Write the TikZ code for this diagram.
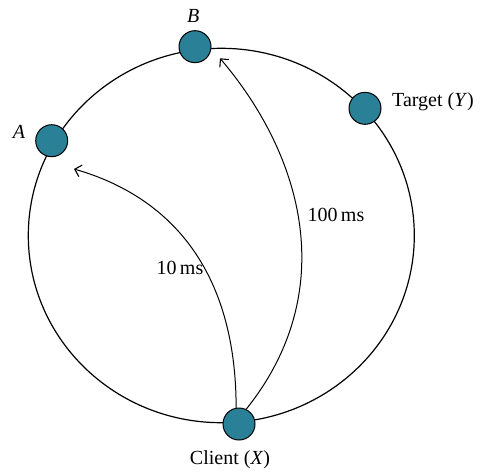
\documentclass[tikz,border=0pt]{standalone}
\usepackage{fontspec}
\setmainfont{Liberation Serif}
\usetikzlibrary{arrows.meta}
\definecolor{peer}{RGB}{42,128,150}
\tikzset{
  peernode/.style={circle, draw=black, line width=1pt, fill=peer, minimum size=32pt, inner sep=0pt},
  lbl/.style={inner sep=0pt, font=\fontsize{20}{24}\selectfont},
  ring/.style={line width=1.2pt},
  hop/.style={line width=1pt, -{Straight Barb[length=6pt, width=12pt, line width=1.1pt]}}
}
\begin{document}
\begin{tikzpicture}[x=1pt, y=-1pt]
\useasboundingbox (0,0) rectangle (484,473);
% the overlay ring
\draw[ring] (221.3,235.5) ellipse [x radius=193pt, y radius=187.2pt];
% peers on the ring
\node[peernode] (B) at (195,46.7) {};
\node[peernode] (A) at (51.7,140.7) {};
\node[peernode] (Y) at (365,108.3) {};
\node[peernode] (X) at (239,424) {};
% labels
\node[lbl] (lB) at (193.3,16) {\textit{B}};
\node[lbl] (lA) at (19,131.7) {\textit{A}};
\node[lbl, anchor=west] (lY) at (392,102) {Target (\textit{Y})};
\node[lbl] (lX) at (230,460) {Client (\textit{X})};
% lookup hops
\coordinate (toA) at (74,169);
\coordinate (toB) at (220,58.3);
\draw[hop] (X.100) .. controls (236,270) and (170,196.5) .. (toA);
\draw[hop] (X.64) .. controls (340,292) and (304,157) .. (toB);
\node[lbl] (l10) at (180,268) {10\,ms};
\node[lbl] (l100) at (336,215) {100\,ms};
\end{tikzpicture}
\end{document}
